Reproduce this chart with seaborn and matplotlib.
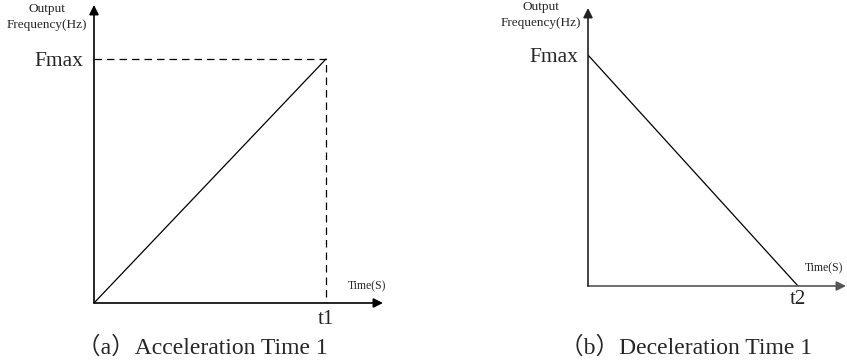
import matplotlib
matplotlib.use("Agg")
import matplotlib.pyplot as plt
import seaborn as sns
import pandas as pd

# ---- data ----
accel_time = [0, 1]
accel_freq = [0, 1]
decel_time = [0, 1]
decel_freq = [1, 0]
guide_time = [0, 1, 1]
guide_freq = [1, 1, 0]
y_tick_label = "Fmax"
accel_tick_label = "t1"
decel_tick_label = "t2"
y_axis_title = "Output\nFrequency(Hz)"
x_axis_title = "Time(S)"
captions = ["（a）Acceleration Time 1", "（b）Deceleration Time 1"]

sns.set_theme(style="white")
plt.rcParams["font.family"] = ["Liberation Serif", "Noto Sans CJK SC", "DejaVu Sans"]

W, H = 847, 363
fig = plt.figure(figsize=(W / 100, H / 100), dpi=100)


def make_axes(ox, oy, ux, uy, tipx, tipy):
    # pixel coordinates (from top-left) -> figure fractions
    left = ox / W
    bottom = (H - oy) / H
    width = (tipx - ox) / W
    height = (oy - tipy) / H
    ax = fig.add_axes([left, bottom, width, height])
    ax.set_xlim(0, (tipx - ox) / (ux - ox))
    ax.set_ylim(0, (oy - tipy) / (oy - uy))
    ax.patch.set_alpha(0)
    for s in ax.spines.values():
        s.set_visible(False)
    return ax


def axis_arrows(ax, xcolor="black", ycolor="black"):
    ax.annotate("", xy=(1, 0), xytext=(0, 0), xycoords="axes fraction",
                arrowprops=dict(arrowstyle="-|>", color=xcolor, lw=1.2,
                                mutation_scale=14, shrinkA=0, shrinkB=0))
    ax.annotate("", xy=(0, 1), xytext=(0, 0), xycoords="axes fraction",
                arrowprops=dict(arrowstyle="-|>", color=ycolor, lw=1.2,
                                mutation_scale=14, shrinkA=0, shrinkB=0))


# ---- left panel: acceleration ----
ax1 = make_axes(94, 303, 326, 59, 383, 5)
df1 = pd.DataFrame({"time": accel_time, "freq": accel_freq})
sns.lineplot(data=df1, x="time", y="freq", ax=ax1, color="black", lw=0.9)
ax1.plot(guide_time, guide_freq, color="black", lw=0.9, ls=(0, (6, 4)))
axis_arrows(ax1)
ax1.set_xticks([1])
ax1.set_xticklabels([accel_tick_label], fontsize=15)
ax1.set_yticks([1])
ax1.set_yticklabels([y_tick_label], fontsize=15.5)
ax1.tick_params(axis="x", length=0, pad=5)
ax1.tick_params(axis="y", length=0, pad=8)
ax1.set_xlabel("")
ax1.set_ylabel("")
ax1.text(1.01, 0.035, x_axis_title, transform=ax1.transAxes, ha="right",
         va="bottom", fontsize=8.5)

# ---- right panel: deceleration ----
ax2 = make_axes(588, 286, 798, 55, 846, 8)
df2 = pd.DataFrame({"time": decel_time, "freq": decel_freq})
sns.lineplot(data=df2, x="time", y="freq", ax=ax2, color="black", lw=0.9)
axis_arrows(ax2, xcolor="#555555", ycolor="#222222")
ax2.set_xticks([1])
ax2.set_xticklabels([decel_tick_label], fontsize=15)
ax2.set_yticks([1])
ax2.set_yticklabels([y_tick_label], fontsize=15.5)
ax2.tick_params(axis="x", length=0, pad=3)
ax2.tick_params(axis="y", length=0, pad=7)
ax2.set_xlabel("")
ax2.set_ylabel("")
ax2.text(0.99, 0.043, x_axis_title, transform=ax2.transAxes, ha="right",
         va="bottom", fontsize=8.5)

# ---- axis titles ----
fig.text(47 / W, 1 - 3 / H, y_axis_title, ha="center", va="top",
         fontsize=9.5, linespacing=1.45)
fig.text(541 / W, 1 - 1 / H, y_axis_title, ha="center", va="top",
         fontsize=9.5, linespacing=1.45)

# ---- captions ----
fig.text(202 / W, 1 - 347 / H, captions[0], ha="center", va="center",
         fontsize=17)
fig.text(686 / W, 1 - 347 / H, captions[1], ha="center", va="center",
         fontsize=17)

fig.savefig("out.png", dpi=100)
